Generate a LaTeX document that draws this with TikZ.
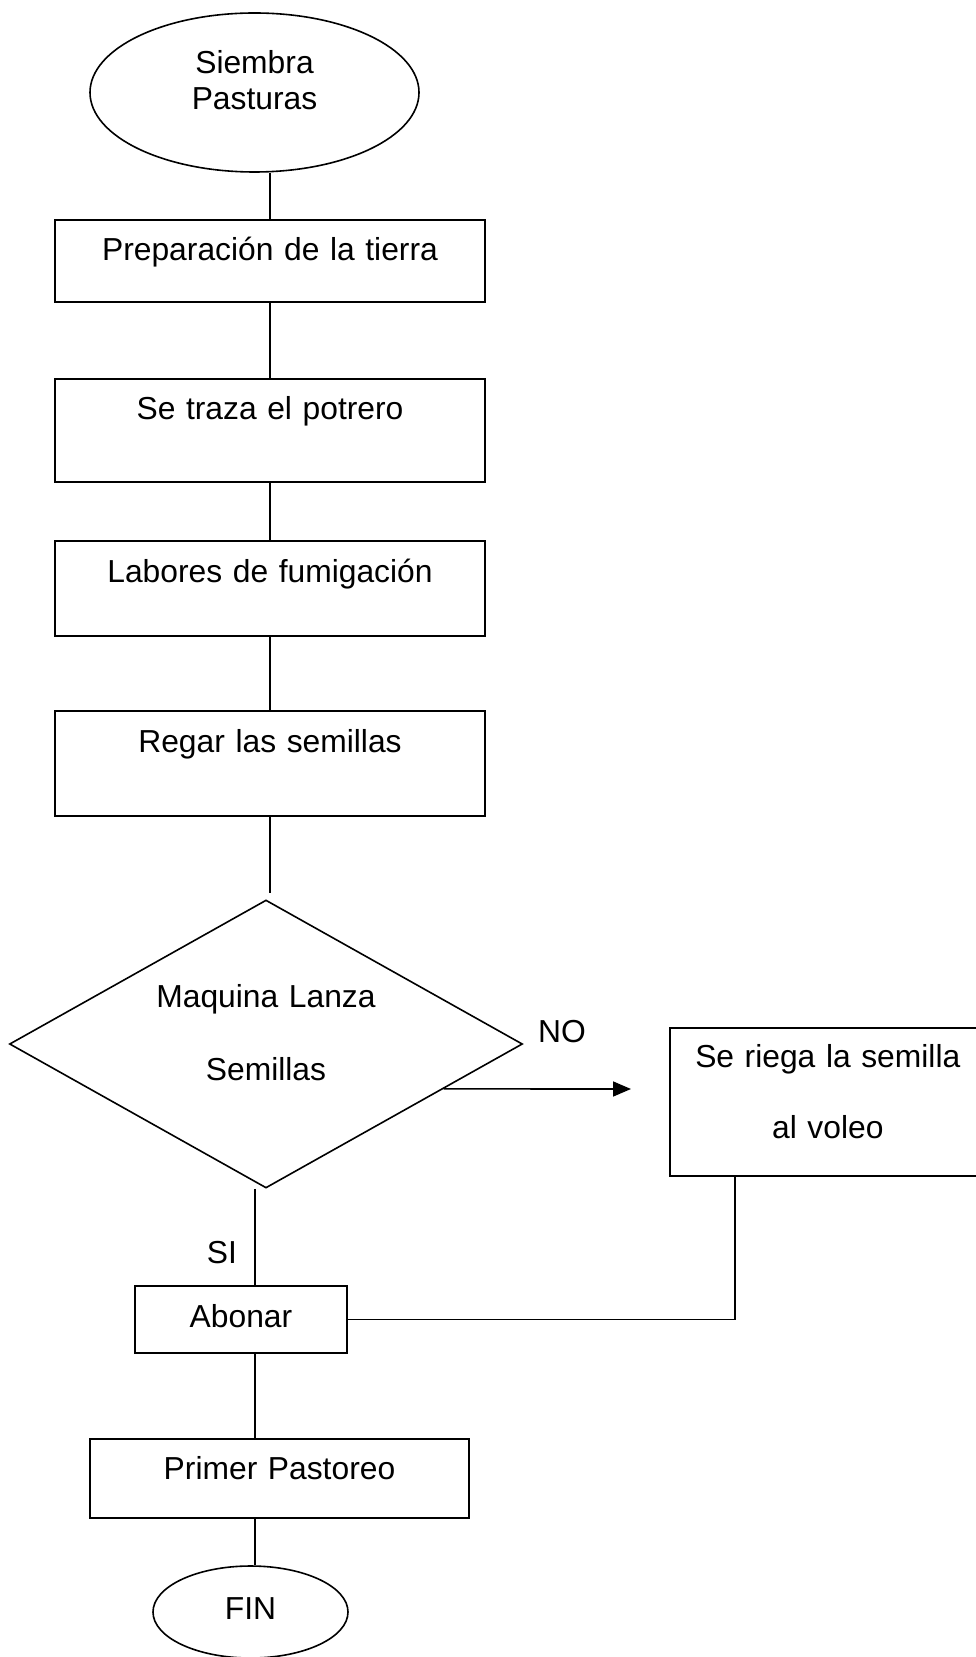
\documentclass[tikz,border=0pt]{standalone}
\usepackage{fontspec}
\setmainfont{Liberation Sans}
\usetikzlibrary{shapes.geometric,arrows.meta,calc}

\begin{document}
\begin{tikzpicture}[x=0.5pt,y=-0.5pt,line width=0.8pt,font=\fontsize{15.9pt}{18pt}\selectfont,
    proc node/.style={draw,rectangle,inner sep=0pt,align=center,anchor=north},
    end node/.style={draw,ellipse,inner sep=0pt,align=center},
    dec node/.style={draw,diamond,aspect=1.78,inner sep=0pt,align=center,minimum width=256.5pt,minimum height=144pt}]
                        \useasboundingbox (0,0) rectangle (975,1657);

                        \node[end node,minimum width=164.5pt,minimum height=79.5pt,text width=80pt,text height=10pt,text depth=28.5pt] (inicio) at (254.5,92.5) {Siembra\\Pasturas};
                        \node[proc node,text width=215pt,text height=20.5pt,text depth=20.5pt] (prep) at (270,219) {Preparación de la tierra};
                        \node[proc node,text width=215pt,text height=20.5pt,text depth=31pt] (traza) at (270,378) {Se traza el potrero};
                        \node[proc node,text width=215pt,text height=21pt,text depth=26.5pt] (labores) at (270,540) {Labores de fumigación};
                        \node[proc node,text width=215pt,text height=21pt,text depth=31.5pt] (regar) at (270,710) {Regar las semillas};
                        \node[dec node,text width=120pt,text height=5pt,text depth=42pt] (dec) at (266,1044) {Maquina Lanza\\[18.5pt]Semillas};
                        \node[proc node,anchor=north west,text width=158pt,text height=20pt,text depth=54pt] (riega) at (669,1027) {Se riega la semilla\\[17.5pt]al voleo};
                        \node[proc node,text width=106pt,text height=21pt,text depth=12.5pt] (abonar) at (241,1285) {Abonar};
                        \node[proc node,text width=189.5pt,text height=20.5pt,text depth=19pt] (primer) at (279.5,1438) {Primer Pastoreo};
                        \node[end node,minimum width=97.5pt,minimum height=46pt,text width=40pt,text height=11pt,text depth=4pt] (fin) at (250.5,1612) {FIN};

                        \node[anchor=base] (no) at (562,1042) {NO};
                        \node[anchor=base] (si) at (222,1263) {SI};

                        \coordinate (eje) at (255,0);
                        \coordinate (punta) at (631,1089);

                        \path
                            (prep.north |- inicio.south) edge (prep.north)
                            (prep) edge (traza)
                            (traza) edge (labores)
                            (labores) edge (regar)
                        ;
                        \draw (regar.south) -- ([yshift=3pt]regar.south |- dec.north);
                        \draw[-{Triangle[length=9pt,width=7.5pt]}] ($(dec.east)!0.31!(dec.south)$) -- (punta);
                        \draw (eje |- dec.south) -- (eje |- abonar.north);
                        \draw ([xshift=33pt]riega.south west) |- (abonar.east);
                        \draw (eje |- abonar.south) -- (eje |- primer.north);
                        \draw (eje |- primer.south) -- (eje |- fin.north);
\end{tikzpicture}
\end{document}
